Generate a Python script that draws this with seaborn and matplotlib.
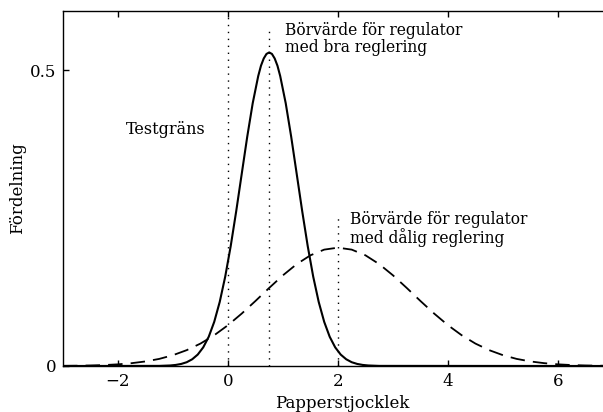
import pandas as pd
import matplotlib
matplotlib.use("Agg")
import matplotlib.pyplot as plt
import seaborn as sns

# ----------------------------
# Data
# ----------------------------
# solid curve: regulator med bra reglering (peak at 0.75)
good_x = [-3.0, -1.25, -1.05, -0.95, -0.85, -0.75, -0.65, -0.55, -0.45, -0.35,
          -0.25, -0.15, -0.05, 0.05, 0.15, 0.25, 0.35, 0.45, 0.55, 0.6, 0.65, 0.7,
          0.75, 0.8, 0.85, 0.9, 0.95, 1.05, 1.15, 1.25, 1.35, 1.45, 1.55, 1.65,
          1.75, 1.85, 1.95, 2.05, 2.15, 2.25, 2.35, 2.45, 2.55, 2.75, 7.0]
good_y = [0.0, 0.0002, 0.0009, 0.0018, 0.0035, 0.0064, 0.0114, 0.0193, 0.0315, 0.0494,
          0.0746, 0.1083, 0.1511, 0.2028, 0.2617, 0.3246, 0.3873, 0.4442, 0.4900, 0.5075, 0.5197, 0.5274,
          0.5300, 0.5274, 0.5197, 0.5075, 0.4900, 0.4442, 0.3873, 0.3246, 0.2617, 0.2028, 0.1511, 0.1083,
          0.0746, 0.0494, 0.0315, 0.0193, 0.0114, 0.0064, 0.0035, 0.0018, 0.0009, 0.0002, 0.0]

# dashed curve: regulator med dålig reglering (peak at 2)
bad_x = [-3.0, -2.75, -2.5, -2.25, -2.0, -1.75, -1.5, -1.25, -1.0, -0.75,
         -0.5, -0.25, 0.0, 0.25, 0.5, 0.75, 1.0, 1.25, 1.5, 1.75,
         2.0, 2.25, 2.5, 2.75, 3.0, 3.25, 3.5, 3.75, 4.0, 4.25,
         4.5, 4.75, 5.0, 5.25, 5.5, 5.75, 6.0, 6.25, 6.5, 6.75, 7.0]
bad_y = [0.0003, 0.0005, 0.0009, 0.0016, 0.0028, 0.0048, 0.0077, 0.0120, 0.0183, 0.0268,
         0.0379, 0.0520, 0.0690, 0.0886, 0.1099, 0.1320, 0.1533, 0.1722, 0.1871, 0.1967,
         0.2000, 0.1967, 0.1871, 0.1722, 0.1533, 0.1320, 0.1099, 0.0886, 0.0690, 0.0520,
         0.0379, 0.0268, 0.0183, 0.0120, 0.0077, 0.0048, 0.0028, 0.0016, 0.0009, 0.0005, 0.0003]

# vertical dotted markers: (x, top)
vline_x = [0.0, 0.75, 2.0]
vline_top = [0.6, 0.57, 0.25]

x_ticks = [-2, 0, 2, 4, 6]
x_tick_labels = ["\u22122", "0", "2", "4", "6"]
y_ticks = [0, 0.5]
y_tick_labels = ["0", "0.5"]

good_df = pd.DataFrame({"x": good_x, "y": good_y})
bad_df = pd.DataFrame({"x": bad_x, "y": bad_y})

# ----------------------------
# Plot
# ----------------------------
sns.set_style("white")
plt.rcParams["font.family"] = ["DejaVu Serif"]
plt.rcParams["text.color"] = "black"
plt.rcParams["axes.labelcolor"] = "black"

fig = plt.figure(figsize=(6.03, 4.12), dpi=100)
ax = fig.add_axes([63 / 603, 46 / 412, 1 - 63 / 603, 355 / 412])

sns.lineplot(data=good_df, x="x", y="y", ax=ax, color="black", linewidth=1.5)
sns.lineplot(data=bad_df, x="x", y="y", ax=ax, color="black", linewidth=1.3,
             linestyle=(0, (8, 4.5)))

for vx, vt in zip(vline_x, vline_top):
    ax.plot([vx, vx], [0, vt], color="black", linewidth=1.0,
            linestyle=(0, (1, 4)))

ax.text(1.04, 0.553, "Börvärde för regulator\nmed bra reglering",
        ha="left", va="center", fontsize=11.2, linespacing=1.0)
ax.text(-1.13, 0.40, "Testgräns", ha="center", va="center", fontsize=11.5)
ax.text(2.22, 0.231, "Börvärde för regulator\nmed dålig reglering",
        ha="left", va="center", fontsize=11.2, linespacing=1.0)

ax.set_xlim(-3, 6.82)
ax.set_ylim(0, 0.6)
ax.set_xticks(x_ticks)
ax.set_xticklabels(x_tick_labels)
ax.set_yticks(y_ticks)
ax.set_yticklabels(y_tick_labels)
ax.tick_params(direction="in", length=4, width=1, top=True, right=False,
               bottom=True, left=True, labelsize=12, pad=5, colors="black")
ax.set_xlabel("Papperstjocklek", fontsize=12)
ax.set_ylabel("Fördelning", fontsize=12)
ax.xaxis.set_label_coords(0.517, -0.083)
ax.yaxis.set_label_coords(-0.068, 0.5)

for side in ["left", "top", "bottom"]:
    ax.spines[side].set_color("black")
    ax.spines[side].set_linewidth(1.0)
ax.spines["right"].set_visible(False)
ax.grid(False)

fig.savefig("out.png", dpi=100, facecolor="white")
